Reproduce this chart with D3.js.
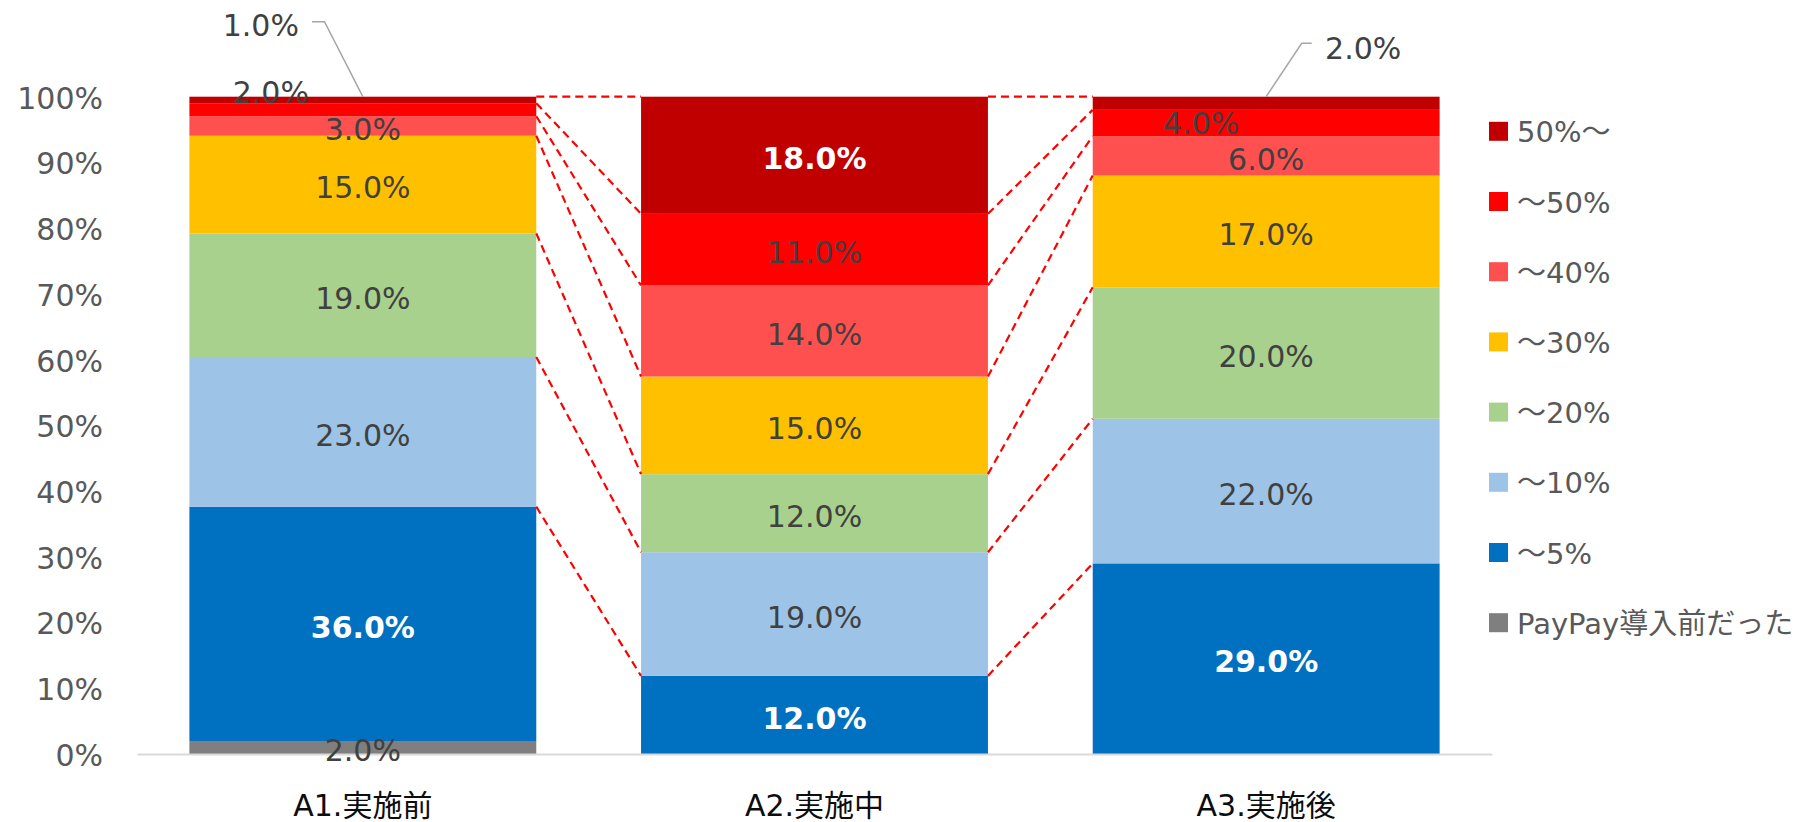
<!DOCTYPE html>
<html><head><meta charset="utf-8">
<script src="https://cdn.jsdelivr.net/npm/d3@7"></script>
<style>
html,body{margin:0;padding:0;background:#fff;}
text{font-family:"DejaVu Sans","Noto Sans CJK JP",sans-serif;}
</style></head>
<body><svg id="chart" width="1799" height="822"></svg>
<script>
const categories = ["A1.実施前", "A2.実施中", "A3.実施後"];
const seriesNames = ["PayPay導入前だった", "～5%", "～10%", "～20%", "～30%", "～40%", "～50%", "50%～"];
const seriesColors = ["#7F7F7F", "#0070C0", "#9DC3E6", "#A9D18E", "#FFC000", "#FF5050", "#FF0000", "#C00000"];
const vPayPay = [2, 0, 0];
const v5 = [36, 12, 29];
const v10 = [23, 19, 22];
const v20 = [19, 12, 20];
const v30 = [15, 15, 17];
const v40 = [3, 14, 6];
const v50 = [2, 11, 4];
const v50plus = [1, 18, 2];
const yTicks = [0, 0.1, 0.2, 0.3, 0.4, 0.5, 0.6, 0.7, 0.8, 0.9, 1.0];

const seriesValues = [vPayPay, v5, v10, v20, v30, v40, v50, v50plus];
const rows = categories.map((c, i) => {
  const r = {cat: c};
  seriesNames.forEach((s, k) => r[s] = seriesValues[k][i]);
  return r;
});

const svg = d3.select("#chart");
const x = d3.scaleBand().domain(categories).range([137, 1492]).paddingInner(0.232).paddingOuter(0.116);
const y = d3.scaleLinear().domain([0, 1]).range([754, 96.7]);
const bw = x.bandwidth();

const stacked = d3.stack().keys(seriesNames).offset(d3.stackOffsetExpand)(rows);

// clip
svg.append("defs").append("clipPath").attr("id", "plotclip")
  .append("rect").attr("x", 120).attr("y", 0).attr("width", 1400).attr("height", 762);

// bars
const g = svg.append("g");
stacked.forEach((s, k) => {
  g.selectAll(null).data(s).join("rect")
    .attr("x", d => x(d.data.cat))
    .attr("width", bw)
    .attr("y", d => y(d[1]))
    .attr("height", d => y(d[0]) - y(d[1]))
    .attr("fill", seriesColors[k]);
});

// series lines
const sl = svg.append("g");
stacked.forEach((s, k) => {
  if (k === 0) return;
  for (let i = 0; i < categories.length - 1; i++) {
    sl.append("line")
      .attr("x1", x(categories[i]) + bw).attr("y1", y(s[i][1]))
      .attr("x2", x(categories[i + 1])).attr("y2", y(s[i + 1][1]))
      .attr("stroke", "#FF0000").attr("stroke-width", 2.2)
      .attr("stroke-dasharray", "8,5");
  }
});

// axes
const ya = svg.append("g").attr("transform", "translate(137,0)")
  .call(d3.axisLeft(y).tickValues(yTicks).tickFormat(d3.format(".0%")).tickSize(0).tickPadding(34));
ya.select(".domain").remove();
ya.selectAll("text").attr("font-size", 30).attr("fill", "#595959")
  .attr("font-family", "DejaVu Sans, Noto Sans CJK JP, sans-serif").attr("dy", "0.38em");

const xa = svg.append("g").attr("transform", "translate(0,754)")
  .call(d3.axisBottom(x).tickSize(0));
xa.select(".domain").attr("stroke", "#D9D9D9").attr("stroke-width", 2);
xa.selectAll("text").attr("font-size", 30).attr("fill", "#0d0d0d")
  .attr("font-family", "DejaVu Sans, Noto Sans CJK JP, sans-serif")
  .attr("y", 51).attr("dy", "0.36em");

// data labels
const whiteBold = {"1-0": true, "1-1": true, "1-2": true, "7-1": true};
const labelOffsets = {"7-0": [-102, -78], "6-0": [-92, -21], "7-2": [97, -58], "6-2": [-65, -3]};
const lg = svg.append("g").attr("clip-path", "url(#plotclip)");
stacked.forEach((s, k) => {
  s.forEach((d, i) => {
    const v = seriesValues[k][i];
    if (!v) return;
    const key = k + "-" + i;
    const off = labelOffsets[key] || [0, 0];
    const cx = x(d.data.cat) + bw / 2 + off[0];
    const cy = (y(d[0]) + y(d[1])) / 2 + off[1] + 3;
    const wb = whiteBold[key];
    lg.append("text").attr("x", cx).attr("y", cy).attr("dy", "0.36em")
      .attr("text-anchor", "middle").attr("font-size", 30)
      .attr("font-weight", wb ? "bold" : "normal")
      .attr("fill", wb ? "#FFFFFF" : "#404040")
      .text(d3.format(".1f")(v) + "%");
  });
});

// leader lines
const leaders = [
  {k: 7, i: 0, pts: [[312, 21.7], [324.5, 21.7]]},
  {k: 7, i: 2, pts: [[1311.7, 43.3], [1301.7, 43.3]]}
];
leaders.forEach(L => {
  const d = stacked[L.k][L.i];
  const pts = L.pts.concat([[x(d.data.cat) + bw / 2, y(d[1])]]);
  svg.append("path").attr("d", d3.line()(pts)).attr("fill", "none")
    .attr("stroke", "#A6A6A6").attr("stroke-width", 1.5);
});

// legend
const leg = svg.append("g").attr("transform", "translate(1489,0)");
const legendOrder = seriesNames.slice().reverse();
legendOrder.forEach((s, j) => {
  const k = seriesNames.indexOf(s);
  const cy = 131.3 + j * 70.2;
  leg.append("rect").attr("x", 0).attr("y", cy - 9.5).attr("width", 19).attr("height", 19).attr("fill", seriesColors[k]);
  leg.append("text").attr("x", 28).attr("y", cy).attr("dy", "0.38em")
    .attr("font-size", 29).attr("fill", "#595959").text(s);
});
</script></body></html>
